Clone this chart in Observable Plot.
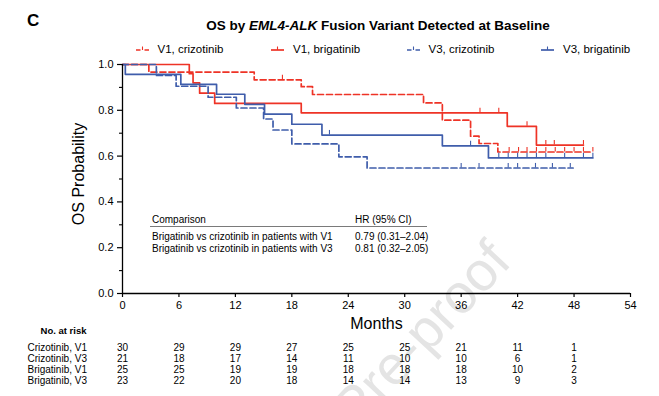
<!DOCTYPE html>
<html><head><meta charset="utf-8">
<script src="https://cdn.jsdelivr.net/npm/d3@7"></script>
<script src="https://cdn.jsdelivr.net/npm/@observablehq/plot@0.6"></script>
<style>
html,body{margin:0;padding:0;background:#fff;}
#wrap{position:relative;width:659px;height:396px;overflow:hidden;font-family:"Liberation Sans",Arial,sans-serif;color:#000;}
#wrap svg{position:absolute;left:0;}
.abs{position:absolute;white-space:nowrap;line-height:1;}
</style></head><body>
<div id="wrap"></div>
<script>
// ---------- data ----------
const panelLabel = "C";
const titleParts = ["OS by ", "EML4-ALK", " Fusion Variant Detected at Baseline"];
const xTicks = [0, 6, 12, 18, 24, 30, 36, 42, 48, 54];
const yMajor = [0, 0.2, 0.4, 0.6, 0.8, 1.0];
const yMinor = [0.1, 0.3, 0.5, 0.7, 0.9];
const xLabel = "Months";
const yLabel = "OS Probability";

const seriesNames = ["V1, crizotinib", "V1, brigatinib", "V3, crizotinib", "V3, brigatinib"];
const seriesColors = ["#ee3326", "#ee3326", "#3f5dab", "#3f5dab"];
const seriesDashed = [true, false, true, false];

const v1CrizTime = [0, 2.8, 14.0, 19.0, 20.2, 32.0, 34.0, 37.0, 37.9, 39.9, 50.0];
const v1CrizSurv = [1, 0.967, 0.933, 0.903, 0.869, 0.832, 0.757, 0.687, 0.655, 0.618, 0.618];
const v1CrizCensor = [17.0, 41.1, 42.1, 43.0, 44.0, 45.0, 46.0, 47.0, 48.0, 49.0, 50.0];

const v1BrigTime = [0, 7.1, 7.5, 8.2, 9.8, 19.0, 40.9, 44.0, 49.0];
const v1BrigSurv = [1, 0.96, 0.92, 0.875, 0.83, 0.789, 0.73, 0.648, 0.648];
const v1BrigCensor = [38.0, 40.0, 43.0, 45.0, 45.9, 49.0];

const v3CrizTime = [0, 3.6, 5.7, 9.1, 12.1, 15.0, 16.0, 18.0, 23.0, 26.0, 47.9];
const v3CrizSurv = [1, 0.952, 0.905, 0.857, 0.81, 0.762, 0.714, 0.653, 0.597, 0.548, 0.548];
const v3CrizCensor = [36.0, 37.9, 41.0, 42.0, 43.9, 45.7, 47.6];

const v3BrigTime = [0, 0.3, 6.2, 10.0, 13.0, 15.1, 18.0, 21.2, 34.0, 38.9, 50.0];
const v3BrigSurv = [1, 0.957, 0.913, 0.870, 0.826, 0.783, 0.739, 0.692, 0.645, 0.592, 0.592];
const v3BrigCensor = [22.0, 37.0, 40.0, 41.0, 42.0, 43.0, 44.0, 45.0, 47.0, 49.0, 50.0];

const riskTitle = "No. at risk";
const riskTimes = [0, 6, 12, 18, 24, 30, 36, 42, 48];
const riskRows = ["Crizotinib, V1", "Crizotinib, V3", "Brigatinib, V1", "Brigatinib, V3"];
const riskCrizV1 = [30, 29, 29, 27, 25, 25, 21, 11, 1];
const riskCrizV3 = [21, 18, 17, 14, 11, 10, 10, 6, 1];
const riskBrigV1 = [25, 25, 19, 19, 18, 18, 18, 10, 2];
const riskBrigV3 = [23, 22, 20, 18, 14, 14, 13, 9, 3];

const hrHeader = ["Comparison", "HR (95%  CI)"];
const hrComparisons = ["Brigatinib vs crizotinib in patients with V1", "Brigatinib vs crizotinib in patients with V3"];
const hrValues = ["0.79 (0.31–2.04)", "0.81 (0.32–2.05)"];

const watermark = "Pre-proof";

// ---------- build ----------
const FONT = "'Liberation Sans', Arial, sans-serif";
const wrap = document.getElementById("wrap");
const series = [
  [v1CrizTime, v1CrizSurv, v1CrizCensor],
  [v1BrigTime, v1BrigSurv, v1BrigCensor],
  [v3CrizTime, v3CrizSurv, v3CrizCensor],
  [v3BrigTime, v3BrigSurv, v3BrigCensor]
];
function stepAt(times, surv, t) {
  let s = surv[0];
  for (let i = 0; i < times.length; i++) if (times[i] <= t) s = surv[i];
  return s;
}
const curveMarks = [];
series.forEach(([times, surv, cens], k) => {
  const pts = times.map((t, i) => ({t, s: surv[i]}));
  const cpts = cens.map(t => ({t, s: stepAt(times, surv, t)}));
  curveMarks.push(Plot.line(pts, {x: "t", y: "s", curve: "step-after", stroke: seriesColors[k],
    strokeWidth: 1.7, strokeDasharray: seriesDashed[k] ? "6,3" : null}));
  curveMarks.push(Plot.ruleX(cpts, {x: "t", y1: "s", y2: d => d.s + 0.02, stroke: seriesColors[k], strokeWidth: 1.1}));
});

const main = Plot.plot({
  width: 659, height: 336,
  marginTop: 64, marginBottom: 43, marginLeft: 122, marginRight: 29,
  style: {background: "transparent", overflow: "visible", fontFamily: FONT, color: "#000"},
  x: {domain: [0, 54]},
  y: {domain: [0, 1]},
  marks: [
    Plot.text([watermark], {frameAnchor: "top-left", dx: 362, dy: 172, rotate: -47, textAnchor: "end", fontSize: 55, fill: "#e4e4e4"}),
    ...curveMarks,
    Plot.ruleY([0], {strokeWidth: 1.3}),
    Plot.ruleX([0], {strokeWidth: 1.3}),
    Plot.axisX({ticks: xTicks, tickSize: 4, tickPadding: 4, fontSize: 11, label: null, strokeWidth: 1.2}),
    Plot.axisY({ticks: yMajor, tickFormat: ".1f", tickSize: 5, tickPadding: 4, fontSize: 11, label: null, strokeWidth: 1.2}),
    Plot.axisY({ticks: yMinor, tickFormat: () => "", tickSize: 3, label: null, strokeWidth: 1.1}),
    Plot.text([yLabel], {frameAnchor: "left", textAnchor: "middle", rotate: -90, dx: -44, dy: -5, fontSize: 16}),
    Plot.text([xLabel], {frameAnchor: "bottom", textAnchor: "middle", dy: 35, fontSize: 16}),
    Plot.text([riskTitle], {frameAnchor: "bottom-left", dx: -36, dy: 40, textAnchor: "end", fontSize: 9.5, fontWeight: "bold"})
  ]
});
main.style.top = "0px";
wrap.appendChild(main);

const riskCounts = [riskCrizV1, riskCrizV3, riskBrigV1, riskBrigV3];
const riskData = riskRows.flatMap((row, r) => riskTimes.map((t, i) => ({row, t, n: riskCounts[r][i]})));
const risk = Plot.plot({
  width: 659, height: 60,
  marginTop: 0, marginBottom: 0, marginLeft: 122, marginRight: 29,
  style: {background: "transparent", overflow: "visible", fontFamily: FONT, color: "#000"},
  x: {domain: [0, 54], axis: null},
  y: {type: "point", domain: riskRows, range: [10, 45], padding: 0, axis: null},
  marks: [
    Plot.text(riskData, {x: "t", y: "row", text: "n", fontSize: 10}),
    Plot.text(riskRows, {y: d => d, frameAnchor: "left", dx: -95, textAnchor: "start", fontSize: 10})
  ]
});
risk.style.top = "336px";
wrap.appendChild(risk);

// panel label and title
const pl = document.createElement("div");
pl.className = "abs";
pl.style.cssText = "left:27px;top:12px;font-size:17px;font-weight:bold;";
pl.textContent = panelLabel;
wrap.appendChild(pl);

const tt = document.createElement("div");
tt.className = "abs";
tt.style.cssText = "left:378px;top:19px;transform:translateX(-50%);font-size:13.5px;font-weight:bold;";
tt.append(titleParts[0]);
const it = document.createElement("i"); it.textContent = titleParts[1]; tt.append(it);
tt.append(titleParts[2]);
wrap.appendChild(tt);

// legend
const legSampleX = [136, 271, 407, 541];
const legTextX = [157.5, 293, 428.5, 563];
seriesNames.forEach((name, k) => {
  const ns = "http://www.w3.org/2000/svg";
  const s = document.createElementNS(ns, "svg");
  s.setAttribute("width", 13); s.setAttribute("height", 10);
  s.style.cssText = `position:absolute;left:${legSampleX[k]}px;top:45px;overflow:visible;`;
  const ln = document.createElementNS(ns, "line");
  ln.setAttribute("x1", 0); ln.setAttribute("x2", 13); ln.setAttribute("y1", 5); ln.setAttribute("y2", 5);
  ln.setAttribute("stroke", seriesColors[k]); ln.setAttribute("stroke-width", 1.7);
  if (seriesDashed[k]) ln.setAttribute("stroke-dasharray", "4.5,4");
  const tk = document.createElementNS(ns, "line");
  tk.setAttribute("x1", 6.5); tk.setAttribute("x2", 6.5); tk.setAttribute("y1", 1.5); tk.setAttribute("y2", 5);
  tk.setAttribute("stroke", seriesColors[k]); tk.setAttribute("stroke-width", 1.1);
  s.appendChild(ln); s.appendChild(tk);
  wrap.appendChild(s);
  const d = document.createElement("div");
  d.className = "abs";
  d.style.cssText = `left:${legTextX[k]}px;top:44px;font-size:11.5px;`;
  d.textContent = name;
  wrap.appendChild(d);
});

// inset HR table
function addText(txt, x, y, size) {
  const d = document.createElement("div");
  d.className = "abs";
  d.style.cssText = `left:${x}px;top:${y}px;font-size:${size}px;`;
  d.textContent = txt;
  wrap.appendChild(d);
}
addText(hrHeader[0], 152, 215, 10);
addText(hrHeader[1], 355, 215, 10);
const rule = document.createElement("div");
rule.style.cssText = "position:absolute;left:150px;top:226px;width:277px;height:0;border-top:1.6px solid #7a7a7a;";
wrap.appendChild(rule);
hrComparisons.forEach((c, i) => {
  addText(c, 152, 231.5 + i * 12.5, 10);
  addText(hrValues[i], 355, 231.5 + i * 12.5, 10);
});
</script>
</body></html>
